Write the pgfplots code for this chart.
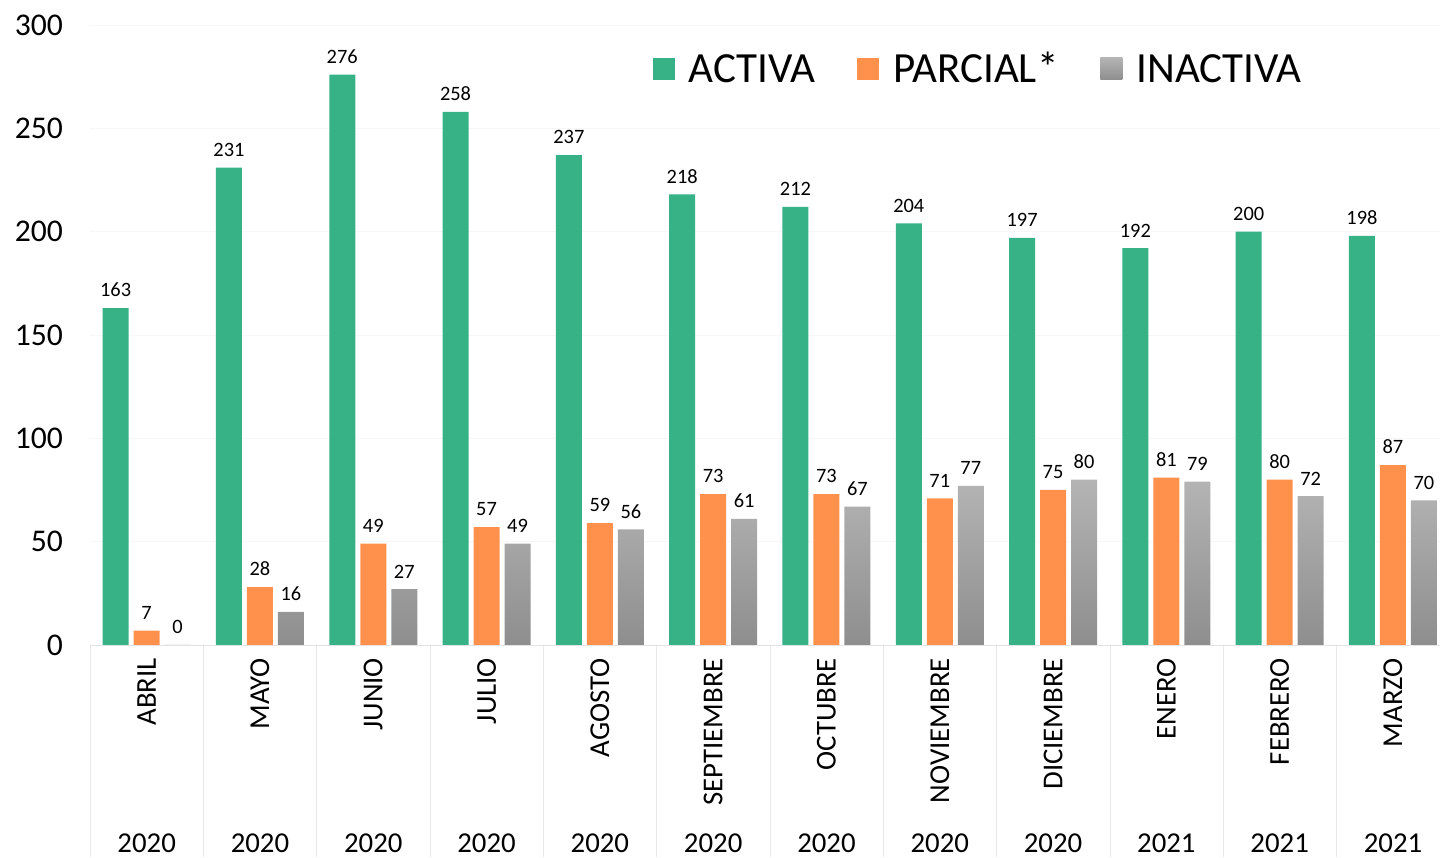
\documentclass[border=0pt]{standalone}
\usepackage{fontspec}
\setmainfont{Carlito}
\usepackage{graphicx}
\usepackage{pgfplots}
\pgfplotsset{compat=1.18}
\usetikzlibrary{calc}

\definecolor{activa}{HTML}{36B286}
\definecolor{parcial}{HTML}{FF914D}
\definecolor{grisTop}{HTML}{B4B4B4}
\definecolor{grisBot}{HTML}{8E8E8E}

\begin{document}
\begin{tikzpicture}
\begin{axis}[
    name=ax,
    scale only axis,
    width=675pt, height=310pt,
    ybar=2.5pt,
    bar width=13pt,
    xmin=-0.5, xmax=11.415,
    ymin=0, ymax=300,
    ytick={0,50,...,300},
    xtick={0,...,11},
    xticklabels={\rotatebox{90}{ABRIL},\rotatebox{90}{MAYO},\rotatebox{90}{JUNIO},
      \rotatebox{90}{JULIO},\rotatebox{90}{AGOSTO},\rotatebox{90}{SEPTIEMBRE},
      \rotatebox{90}{OCTUBRE},\rotatebox{90}{NOVIEMBRE},\rotatebox{90}{DICIEMBRE},
      \rotatebox{90}{ENERO},\rotatebox{90}{FEBRERO},\rotatebox{90}{MARZO}},
    extra x ticks={0,...,11},
    extra x tick labels={2020,2020,2020,2020,2020,2020,2020,2020,2020,2021,2021,2021},
    extra x tick style={xticklabel style={yshift=-88pt}, grid=none},
    minor xtick={-0.5,0.5,...,11.5},
    tick align=outside,
    major tick length=0pt,
    minor tick length=106pt,
    minor tick style={draw=gray!18},
    axis x line*=bottom,
    axis y line*=left,
    x axis line style={-, draw=gray!22},
    y axis line style={draw=none},
    ymajorgrids=true,
    major grid style={draw=gray!6},
    /pgf/number format/assume math mode=true,
    yticklabel style={font=\fontsize{15.8}{18}\selectfont, xshift=-10pt},
    xticklabel style={font=\fontsize{14.4}{17}\selectfont, yshift=-3pt},
    nodes near coords,
    nodes near coords style={font=\fontsize{10.2}{12}\selectfont, text=black, yshift=2pt},
    legend columns=-1,
    legend style={
      at={(0.412,0.922)}, anchor=west,
      draw=none, fill=none,
      font=\fontsize{21.5}{24}\selectfont,
      nodes={text height=0.7em, text depth=0.1em},
      /tikz/every odd column/.append style={column sep=5pt},
      /tikz/every even column/.append style={column sep=19pt}
    },
    legend image code/.code={\path[#1, draw=none] (0pt,-1.5pt) rectangle (11pt,9.5pt);},
    clip=false,
]
\addplot[fill=activa, draw=none] coordinates {
  (0,163) (1,231) (2,276) (3,258) (4,237) (5,218)
  (6,212) (7,204) (8,197) (9,192) (10,200) (11,198)};
\addlegendentry{ACTIVA}

\addplot[fill=parcial, draw=none] coordinates {
  (0,7) (1,28) (2,49) (3,57) (4,59) (5,73)
  (6,73) (7,71) (8,75) (9,81) (10,80) (11,87)};
\addlegendentry{PARCIAL*}

\addplot[top color=grisTop, bottom color=grisBot, draw=none] coordinates {
  (0,0) (1,16) (2,27) (3,49) (4,56) (5,61)
  (6,67) (7,77) (8,80) (9,79) (10,72) (11,70)};
\addlegendentry{INACTIVA}
\end{axis}
\pgfresetboundingbox
\path[use as bounding box] ($(ax.south west)+(-45pt,-106.5pt)$) rectangle ($(ax.north east)+(0pt,12.5pt)$);
\end{tikzpicture}
\end{document}
